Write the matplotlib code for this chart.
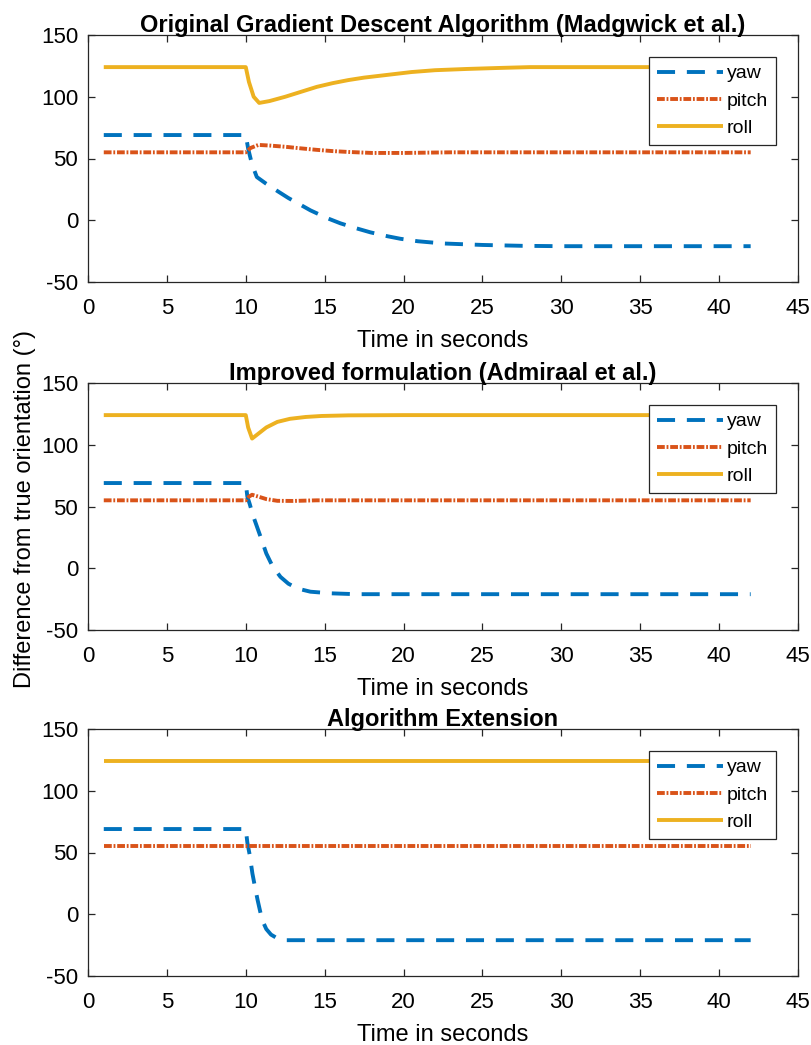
import matplotlib
matplotlib.use("Agg")
import matplotlib.pyplot as plt

plt.rcParams['font.family'] = ['Liberation Sans', 'DejaVu Sans']
plt.rcParams['lines.scale_dashes'] = False
plt.rcParams['axes.unicode_minus'] = False

# ---------------- data ----------------
titles = ["Original Gradient Descent Algorithm (Madgwick et al.)",
          "Improved formulation (Admiraal et al.)",
          "Algorithm Extension"]
series_names = ["yaw", "pitch", "roll"]

# Panel 1: Madgwick
yaw1_t = [1, 10, 10.15, 10.4, 10.7, 11.3, 11.9, 12.7, 13.5, 14.1, 15.2, 16, 17, 17.9, 19, 19.8, 20.9, 22.5, 25, 27.5, 30, 42]
yaw1_v = [69, 69, 58, 45, 35, 29.5, 24.5, 18, 12.3, 8, 1.5, -2.5, -6.5, -9.8, -13, -15, -17, -18.8, -20, -20.7, -21, -21]
pitch1_t = [1, 10, 10.3, 10.8, 11.5, 12.5, 13.5, 14.5, 15.5, 16.5, 18, 20, 23, 42]
pitch1_v = [55, 55, 58.5, 61, 60.5, 59.5, 58.2, 57, 56, 55.3, 54.5, 54.5, 55, 55]
roll1_t = [1, 10, 10.2, 10.5, 10.85, 11.5, 12.5, 13.5, 14.5, 15.5, 16.5, 17.5, 18.5, 19.5, 20.5, 22, 24, 26, 28, 42]
roll1_v = [124, 124, 112, 100, 95, 96.5, 100, 104, 108, 111, 113.5, 115.5, 117, 118.5, 120, 121.5, 122.5, 123.3, 124, 124]

# Panel 2: Admiraal
yaw2_t = [1, 10, 10.1, 10.25, 10.45, 10.7, 10.95, 11.3, 11.7, 12.2, 12.7, 13.3, 14.1, 15.4, 17, 42]
yaw2_v = [69, 69, 58, 52, 43, 34, 25, 12, 1.5, -7, -12.5, -16.5, -19, -20.3, -21, -21]
pitch2_t = [1, 10, 10.2, 10.4, 10.8, 11.3, 12, 13, 14.5, 42]
pitch2_v = [55, 55, 58, 59.5, 58, 56, 54.6, 54.5, 55, 55]
roll2_t = [1, 10, 10.15, 10.4, 10.8, 11.3, 12, 12.8, 13.8, 14.8, 16.5, 20, 42]
roll2_v = [124, 124, 114, 105, 109, 114, 118.5, 121, 122.5, 123.3, 123.8, 124, 124]

# Panel 3: Extension
yaw3_t = [1, 10, 10.1, 10.25, 10.42, 10.6, 10.75, 10.9, 11.05, 11.3, 11.6, 12.0, 12.5, 13.5, 42]
yaw3_v = [69, 69, 58, 48, 33, 21, 11.5, 3, -5, -12, -16.5, -19.5, -21, -21, -21]
pitch3_t = [1, 42]
pitch3_v = [55, 55]
roll3_t = [1, 42]
roll3_v = [124, 124]

x_ticks = [0, 5, 10, 15, 20, 25, 30, 35, 40, 45]
y_ticks = [-50, 0, 50, 100, 150]
x_label = "Time in seconds"
y_label = "Difference from true orientation (\u00b0)"

panels = [
    [(yaw1_t, yaw1_v), (pitch1_t, pitch1_v), (roll1_t, roll1_v)],
    [(yaw2_t, yaw2_v), (pitch2_t, pitch2_v), (roll2_t, roll2_v)],
    [(yaw3_t, yaw3_v), (pitch3_t, pitch3_v), (roll3_t, roll3_v)],
]

# ---------------- styling ----------------
colors = ["#0072BD", "#D95319", "#EDB120"]
lw = 2.8
styles = [(0, (13, 8.5)), (0, (5.6, 1.3, 1.3, 1.3)), "-"]
axcol = "#262626"

W, H = 812, 1045
fig = plt.figure(figsize=(W / 100, H / 100), dpi=100)

ax_left, ax_right = 88, 798
tops = [35, 383, 729]
ax_h = 247

for i, (title, data) in enumerate(zip(titles, panels)):
    top = tops[i]
    ax = fig.add_axes([ax_left / W, 1 - (top + ax_h) / H, (ax_right - ax_left) / W, ax_h / H])
    for (t, v), c, ls, name in zip(data, colors, styles, series_names):
        ax.plot(t, v, color=c, lw=lw, linestyle=ls, label=name,
                solid_capstyle='butt', dash_capstyle='butt')
    ax.set_xlim(0, 45)
    ax.set_ylim(-50, 150)
    ax.set_xticks(x_ticks)
    ax.set_yticks(y_ticks)
    ax.tick_params(direction='in', length=5, width=0.9, top=True, right=True,
                   labelsize=16, colors=axcol, labelcolor='black')
    ax.tick_params(axis='x', pad=11.5)
    ax.tick_params(axis='y', pad=7)
    for s in ax.spines.values():
        s.set_color(axcol)
        s.set_linewidth(0.9)
    ax.set_xlabel(x_label, fontsize=17, labelpad=8)
    ax.set_title(title, fontsize=17, fontweight='bold', pad=2.5)
    leg = ax.legend(loc='upper right', bbox_to_anchor=((776 - ax_left) / (ax_right - ax_left), 1 - 22 / ax_h),
                    borderaxespad=0, fontsize=14, handlelength=3.4, handletextpad=0.2,
                    labelspacing=0.5, borderpad=0.4, fancybox=False, framealpha=1,
                    edgecolor='#262626')
    leg.get_frame().set_linewidth(0.9)

fig.text(25 / W, 1 - 509 / H, y_label, rotation=90, ha='center', va='center', fontsize=17)

fig.savefig("out.png", dpi=100)
